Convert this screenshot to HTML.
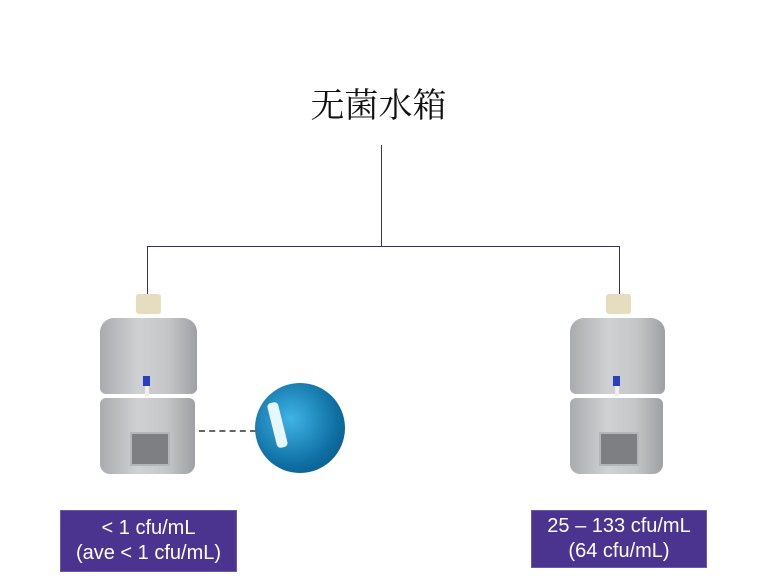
<!DOCTYPE html>
<html><head><meta charset="utf-8"><style>
body{margin:0;width:757px;height:585px;background:#fff;position:relative;overflow:hidden;font-family:"Liberation Sans","Noto Sans CJK SC",sans-serif}
.a{position:absolute}
.title{left:0;width:757px;top:78px;text-align:center;font:34px "Noto Serif CJK SC",serif;color:#111}
.ln{background:#3b2f6e}
.box{background:#4a3490;color:#fff;text-align:center;font-size:20px;line-height:25px;border:1px solid #6a5aa8;box-sizing:border-box;padding-top:5px}
.g{background:linear-gradient(90deg,#a9abae,#cfd1d3 40%,#c4c6c8 70%,#9ea0a3)}
</style></head><body>
<div class="a title">无菌水箱</div>
<div class="a ln" style="left:381px;top:145px;width:1px;height:101px"></div>
<div class="a ln" style="left:147px;top:246px;width:473px;height:1px"></div>
<div class="a ln" style="left:147px;top:246px;width:1px;height:48px"></div>
<div class="a ln" style="left:619px;top:246px;width:1px;height:48px"></div>

<div class="a" style="left:136px;top:294px;width:25px;height:20px;background:#e6dcc0;border-radius:3px"></div>
<div class="a g" style="left:100px;top:318px;width:97px;height:76px;border-radius:14px 14px 6px 6px"></div>
<div class="a" style="left:143px;top:376px;width:7px;height:10px;background:#2a3fc0"></div>
<div class="a" style="left:145px;top:386px;width:4px;height:10px;background:#eee"></div>
<div class="a g" style="left:100px;top:398px;width:95px;height:76px;border-radius:6px 6px 10px 10px"></div>
<div class="a" style="left:130px;top:432px;width:36px;height:30px;background:#7d7f82;border:2px solid #b3b5b8"></div>
<div class="a" style="left:199px;top:430px;width:57px;border-top:2px dashed #666"></div>
<div class="a" style="left:255px;top:383px;width:90px;height:90px;border-radius:50%;background:radial-gradient(circle at 40% 40%,#3fb4e6,#0f6fa3 60%,#0b4e78)"></div>
<div class="a" style="left:272px;top:402px;width:11px;height:46px;background:#e8f6ff;transform:rotate(-14deg);border-radius:4px"></div>

<div class="a" style="left:606px;top:294px;width:25px;height:20px;background:#e6dcc0;border-radius:3px"></div>
<div class="a g" style="left:570px;top:318px;width:95px;height:76px;border-radius:14px 14px 6px 6px"></div>
<div class="a" style="left:613px;top:376px;width:7px;height:10px;background:#2a3fc0"></div>
<div class="a" style="left:615px;top:386px;width:4px;height:10px;background:#eee"></div>
<div class="a g" style="left:570px;top:398px;width:93px;height:76px;border-radius:6px 6px 10px 10px"></div>
<div class="a" style="left:599px;top:432px;width:36px;height:30px;background:#7d7f82;border:2px solid #b3b5b8"></div>

<div class="a box" style="left:60px;top:510px;width:177px;height:62px">&lt; 1 cfu/mL<br>(ave &lt; 1 cfu/mL)</div>
<div class="a box" style="left:531px;top:510px;width:176px;height:58px;padding-top:3px">25 – 133 cfu/mL<br>(64 cfu/mL)</div>
</body></html>
